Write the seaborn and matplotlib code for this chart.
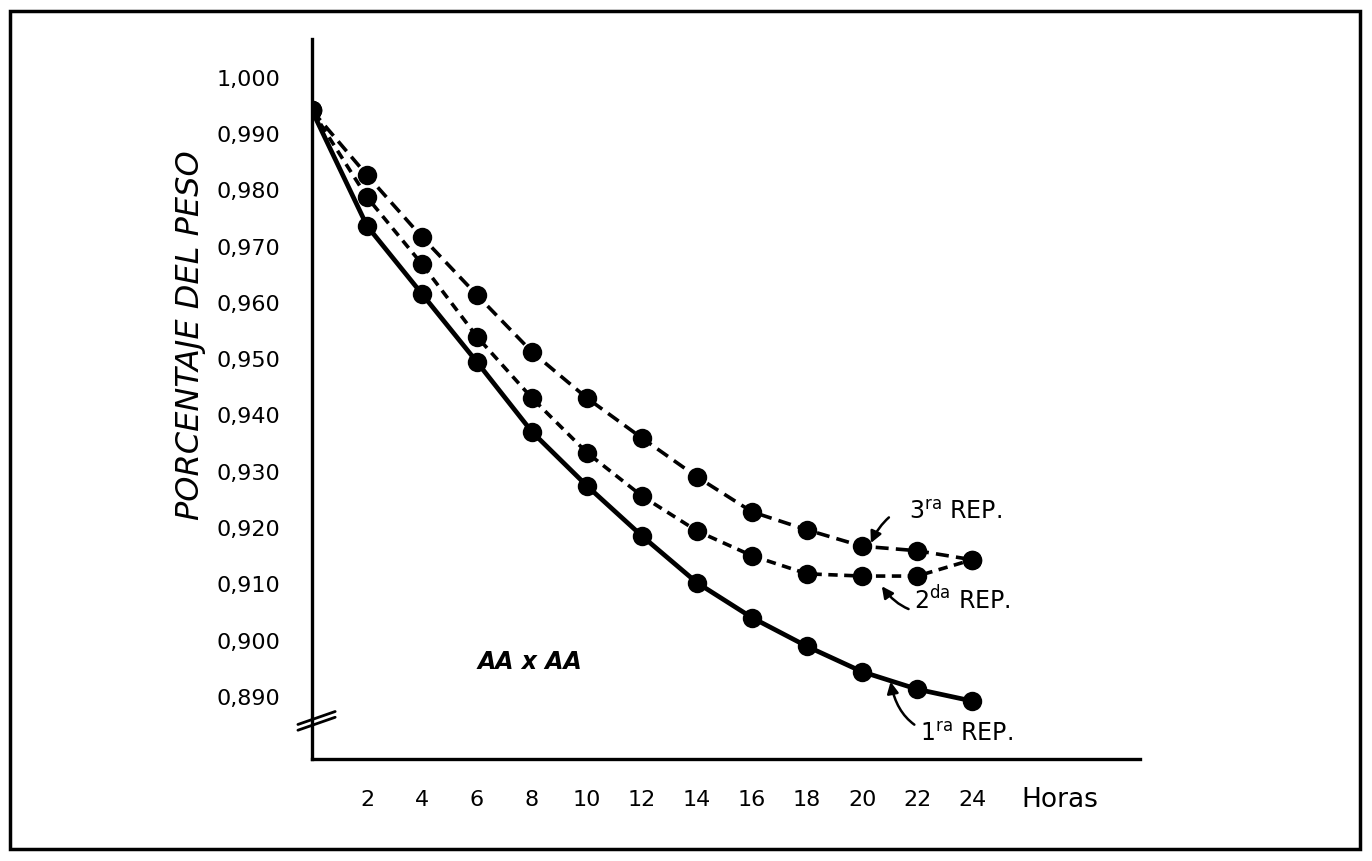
import matplotlib
matplotlib.use("Agg")
import matplotlib.pyplot as plt
import matplotlib.transforms as mtransforms
from matplotlib.patches import Rectangle
import seaborn as sns
import pandas as pd

# Datos
horas = [0, 2, 4, 6, 8, 10, 12, 14, 16, 18, 20, 22, 24]
rep_1 = [0.994, 0.9735, 0.9614, 0.9493, 0.9369, 0.9273, 0.9184, 0.9101, 0.9039, 0.8988, 0.8943, 0.8912, 0.8891]
rep_2 = [0.994, 0.9786, 0.9667, 0.9538, 0.9429, 0.9332, 0.9255, 0.9193, 0.9149, 0.9117, 0.9113, 0.9113, 0.9142]
rep_3 = [0.994, 0.9825, 0.9715, 0.9612, 0.9511, 0.9429, 0.9358, 0.9289, 0.9227, 0.9195, 0.9166, 0.9158, 0.9142]

y_ticks = [0.890, 0.900, 0.910, 0.920, 0.930, 0.940, 0.950, 0.960, 0.970, 0.980, 0.990, 1.000]
y_labels = ["0,890", "0,900", "0,910", "0,920", "0,930", "0,940", "0,950",
            "0,960", "0,970", "0,980", "0,990", "1,000"]
x_ticks = [2, 4, 6, 8, 10, 12, 14, 16, 18, 20, 22, 24]

df = pd.DataFrame({"Horas": horas, "1ra": rep_1, "2da": rep_2, "3ra": rep_3})
df_long = df.melt(id_vars="Horas", var_name="rep", value_name="peso")

sns.set_style("white")
plt.rcParams["font.family"] = ["DejaVu Sans"]
plt.rcParams["text.color"] = "black"
plt.rcParams["xtick.color"] = "black"
plt.rcParams["ytick.color"] = "black"
plt.rcParams["xtick.labelcolor"] = "black"
plt.rcParams["ytick.labelcolor"] = "black"

fig = plt.figure(figsize=(13.72, 8.62), dpi=100)
ax = fig.add_axes([0.2274, 0.1183, 0.6035, 0.8353])

sns.lineplot(data=df_long, x="Horas", y="peso", hue="rep", style="rep",
             palette=["black", "black", "black"],
             dashes={"1ra": "", "2da": (2.6, 1.8), "3ra": (3.6, 2.0)},
             markers={"1ra": "o", "2da": "o", "3ra": "o"},
             markersize=14, markeredgewidth=0, linewidth=2.6,
             legend=False, ax=ax, zorder=3)

# linea continua mas gruesa para la 1ra rep.
ax.lines[0].set_linewidth(3.4)

ax.set_xlim(0, 30.1)
ax.set_ylim(0.8788, 1.0067)
ax.set_xticks(x_ticks)
ax.set_xticklabels([str(v) for v in x_ticks], fontsize=16)
ax.set_yticks(y_ticks)
ax.set_yticklabels(y_labels, fontsize=16)
ax.set_xlabel("")
ax.set_ylabel("")

ax.tick_params(axis="y", direction="out", length=11, width=2, pad=12, color="black")
ax.tick_params(axis="x", direction="out", length=8.6, width=2, pad=13, color="black")
for s in ["top", "right"]:
    ax.spines[s].set_visible(False)
for s in ["left", "bottom"]:
    ax.spines[s].set_linewidth(2.4)
    ax.spines[s].set_color("black")

# corte del eje y
ax.plot([-0.017, 0.028], [0.040, 0.058], color="black", lw=2, transform=ax.transAxes, clip_on=False)
ax.plot([-0.017, 0.028], [0.048, 0.066], color="black", lw=2, transform=ax.transAxes, clip_on=False)

# Horas
trans = mtransforms.blended_transform_factory(ax.transData, ax.transAxes)
ax.text(25.8, -0.055, "Horas", fontsize=19, ha="left", va="center", transform=trans)

# titulo del eje y
fig.text(190 / 1372, 1 - 335 / 862, "PORCENTAJE DEL PESO", rotation=90,
         fontsize=23, style="italic", ha="center", va="center")

# rotulos
ax.text(6.0, 0.8962, "AA x AA", fontsize=17, style="italic", fontweight="bold",
        ha="left", va="center")

ax.annotate(r"3$^{\mathrm{ra}}$ REP.", xy=(20.2, 0.9158), xytext=(21.7, 0.9228),
            fontsize=17, ha="left", va="center",
            arrowprops=dict(arrowstyle="-|>", color="black", lw=1.8,
                            connectionstyle="arc3,rad=0.5", shrinkA=14, shrinkB=6))
ax.annotate(r"2$^{\mathrm{da}}$ REP.", xy=(20.6, 0.9103), xytext=(21.9, 0.9072),
            fontsize=17, ha="left", va="center",
            arrowprops=dict(arrowstyle="-|>", color="black", lw=1.8,
                            connectionstyle="arc3,rad=-0.5", shrinkA=2, shrinkB=4))
ax.annotate(r"1$^{\mathrm{ra}}$ REP.", xy=(21.0, 0.8935), xytext=(22.1, 0.8833),
            fontsize=17, ha="left", va="center",
            arrowprops=dict(arrowstyle="-|>", color="black", lw=1.8,
                            connectionstyle="arc3,rad=-0.5", shrinkA=2, shrinkB=4))

# marco de la figura
fig.patches.append(Rectangle((10 / 1372, 1 - 850 / 862), 1350 / 1372, 838 / 862,
                             transform=fig.transFigure, fill=False,
                             edgecolor="black", linewidth=2.5))

plt.savefig("out.png", dpi=100)
